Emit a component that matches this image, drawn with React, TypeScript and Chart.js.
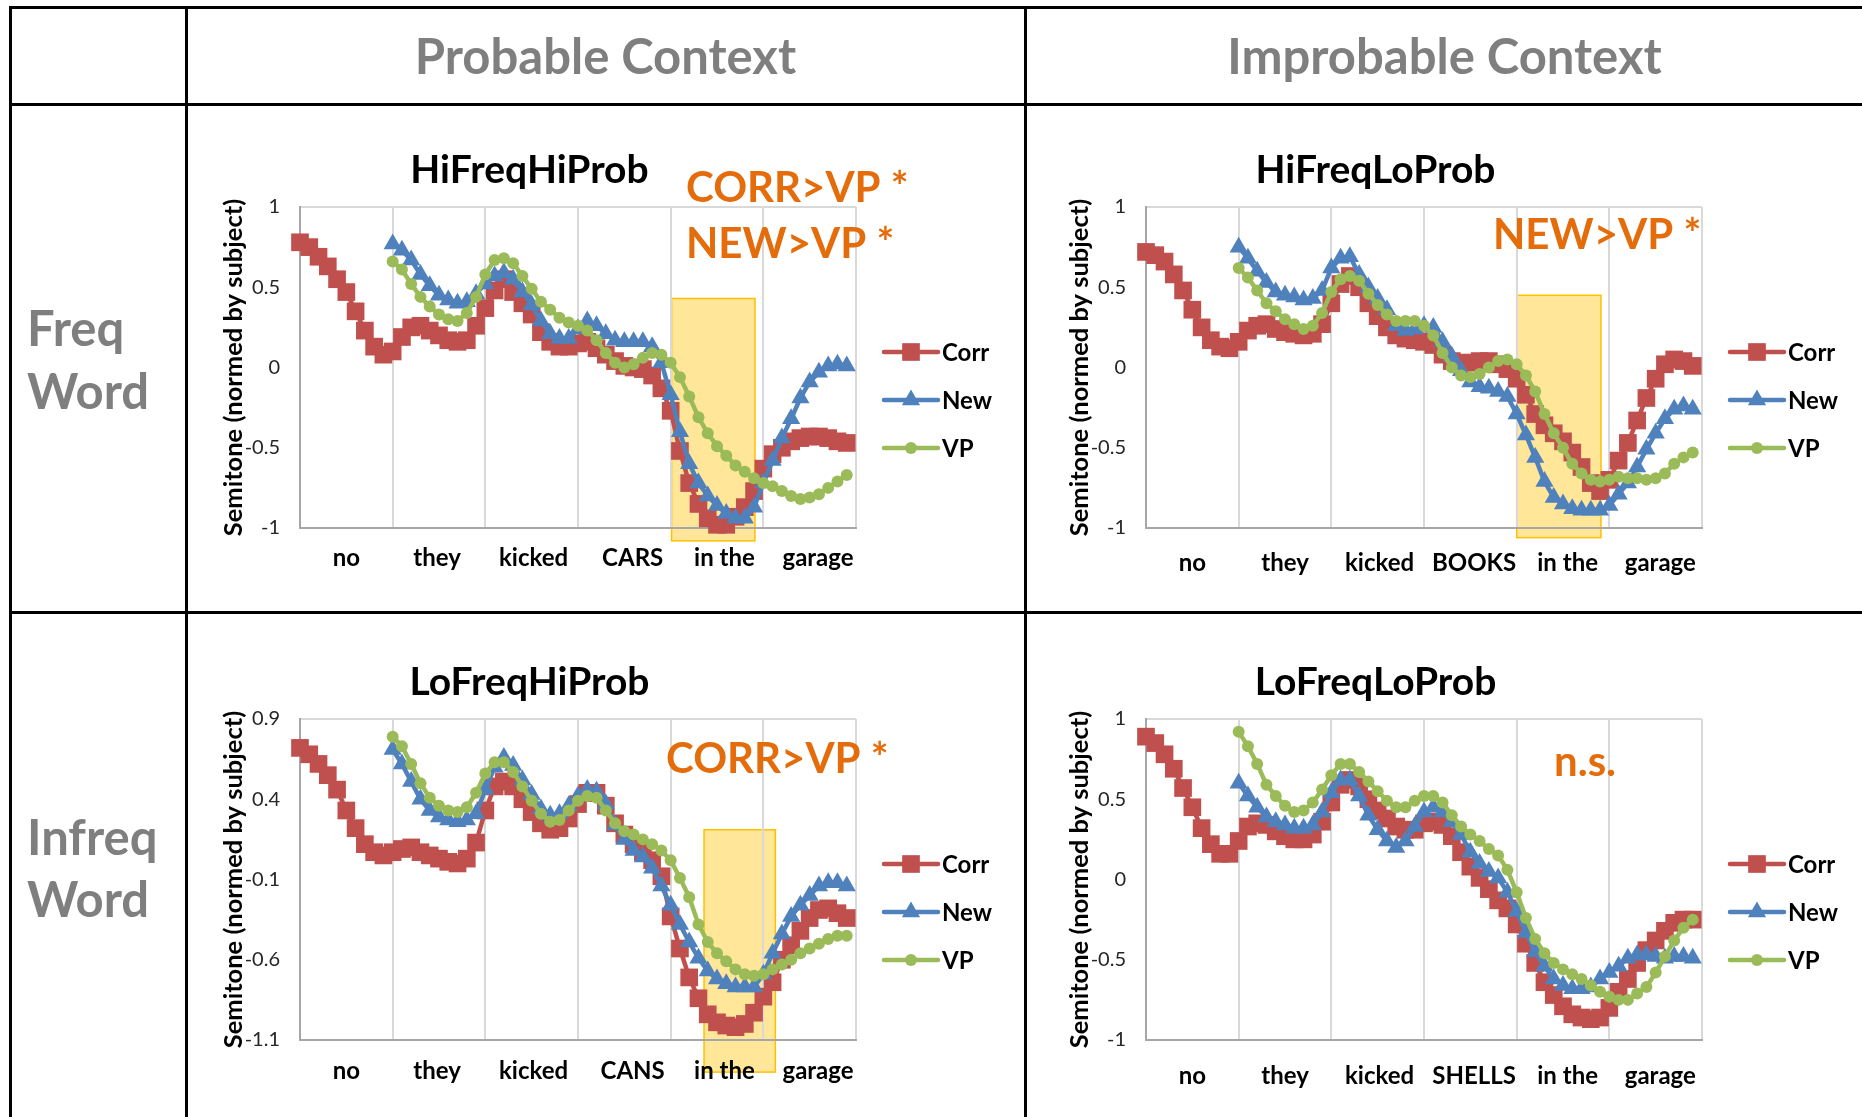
import React, { useEffect, useRef } from 'react';
import { Chart, registerables } from 'chart.js';

Chart.register(...registerables);

const FONT = 'Lato, "Open Sans", sans-serif';
Chart.defaults.font.family = FONT;

// ---------- data ----------
const seriesNames = ['Corr', 'New', 'VP'];
const seriesColors = ['#C0504D', '#4F81BD', '#9BBB59'];
const seriesStyles = ['rect', 'triangle', 'circle'];
const seriesStart = [0, 10, 10];

const xGridValues = [10, 20, 30, 40, 50, 60];
const xLabelPosLeft = [5, 14.8, 25.2, 35.9, 45.8, 55.9];
const xLabelPosRight = [5, 15, 25.2, 35.4, 45.5, 55.5];

const wordsHFHP = ['no', 'they', 'kicked', 'CARS', 'in the', 'garage'];
const wordsHFLP = ['no', 'they', 'kicked', 'BOOKS', 'in the', 'garage'];
const wordsLFHP = ['no', 'they', 'kicked', 'CANS', 'in the', 'garage'];
const wordsLFLP = ['no', 'they', 'kicked', 'SHELLS', 'in the', 'garage'];

const yTicksA = [-1, -0.5, 0, 0.5, 1];
const yTicksB = [-1.1, -0.6, -0.1, 0.4, 0.9];

const hfhpCorr = [0.78, 0.75, 0.69, 0.63, 0.55, 0.47, 0.35, 0.23, 0.13, 0.08,
  0.10, 0.19, 0.25, 0.26, 0.23, 0.20, 0.17, 0.16, 0.17, 0.26,
  0.37, 0.48, 0.55, 0.47, 0.40, 0.33, 0.22, 0.16, 0.13, 0.13,
  0.15, 0.16, 0.12, 0.08, 0.04, 0.01, 0.00, -0.01, -0.05, -0.13,
  -0.27, -0.52, -0.72, -0.85, -0.94, -0.98, -0.98, -0.93, -0.87, -0.77,
  -0.63, -0.54, -0.50, -0.46, -0.44, -0.43, -0.43, -0.44, -0.46, -0.47];
const hfhpNew = [0.77, 0.73, 0.67, 0.58, 0.51, 0.45, 0.42, 0.40, 0.41, 0.46,
  0.52, 0.57, 0.59, 0.55, 0.47, 0.39, 0.29, 0.21, 0.18, 0.18,
  0.24, 0.29, 0.26, 0.21, 0.17, 0.16, 0.16, 0.16, 0.13, 0.03,
  -0.17, -0.40, -0.60, -0.72, -0.80, -0.86, -0.91, -0.94, -0.94, -0.87,
  -0.72, -0.58, -0.44, -0.32, -0.19, -0.09, -0.03, 0.01, 0.02, 0.01];
const hfhpVP = [0.66, 0.61, 0.52, 0.44, 0.38, 0.33, 0.30, 0.29, 0.34, 0.44,
  0.58, 0.67, 0.68, 0.65, 0.57, 0.49, 0.41, 0.36, 0.31, 0.28,
  0.26, 0.23, 0.17, 0.09, 0.03, 0.00, 0.02, 0.06, 0.09, 0.08,
  0.03, -0.06, -0.18, -0.31, -0.41, -0.49, -0.55, -0.61, -0.65, -0.69,
  -0.72, -0.74, -0.77, -0.80, -0.82, -0.81, -0.79, -0.75, -0.71, -0.67];

const hflpCorr = [0.72, 0.70, 0.66, 0.58, 0.48, 0.36, 0.25, 0.17, 0.13, 0.12,
  0.16, 0.23, 0.26, 0.27, 0.24, 0.22, 0.21, 0.20, 0.21, 0.27,
  0.40, 0.52, 0.57, 0.50, 0.40, 0.32, 0.25, 0.20, 0.18, 0.17,
  0.16, 0.14, 0.08, 0.04, 0.03, 0.03, 0.04, 0.04, 0.02, -0.01,
  -0.07, -0.17, -0.29, -0.36, -0.41, -0.46, -0.53, -0.62, -0.72, -0.77,
  -0.70, -0.58, -0.47, -0.33, -0.19, -0.07, 0.02, 0.05, 0.04, 0.01];
const hflpNew = [0.75, 0.68, 0.60, 0.53, 0.47, 0.45, 0.44, 0.42, 0.43, 0.48,
  0.62, 0.68, 0.69, 0.58, 0.50, 0.43, 0.36, 0.26, 0.23, 0.24,
  0.26, 0.25, 0.16, 0.07, -0.02, -0.09, -0.12, -0.13, -0.15, -0.18,
  -0.29, -0.42, -0.56, -0.71, -0.81, -0.85, -0.88, -0.89, -0.89, -0.89,
  -0.86, -0.79, -0.72, -0.62, -0.51, -0.41, -0.32, -0.26, -0.24, -0.26];
const hflpVP = [0.62, 0.56, 0.48, 0.40, 0.35, 0.30, 0.27, 0.24, 0.26, 0.34,
  0.47, 0.55, 0.57, 0.54, 0.46, 0.39, 0.33, 0.29, 0.29, 0.29,
  0.26, 0.20, 0.09, 0.00, -0.05, -0.06, -0.04, 0.00, 0.04, 0.05,
  0.02, -0.05, -0.15, -0.29, -0.41, -0.50, -0.60, -0.66, -0.70, -0.71,
  -0.70, -0.68, -0.69, -0.69, -0.70, -0.69, -0.66, -0.60, -0.56, -0.53];

const lfhpCorr = [0.72, 0.68, 0.62, 0.55, 0.46, 0.33, 0.22, 0.12, 0.07, 0.05,
  0.07, 0.09, 0.10, 0.07, 0.05, 0.03, 0.01, 0.00, 0.03, 0.13,
  0.33, 0.48, 0.51, 0.48, 0.40, 0.32, 0.25, 0.21, 0.22, 0.28,
  0.37, 0.44, 0.44, 0.36, 0.25, 0.18, 0.12, 0.07, 0.02, -0.08,
  -0.33, -0.53, -0.71, -0.84, -0.94, -0.99, -1.01, -1.02, -1.00, -0.93,
  -0.83, -0.74, -0.60, -0.51, -0.42, -0.34, -0.29, -0.28, -0.31, -0.34];
const lfhpNew = [0.71, 0.62, 0.51, 0.40, 0.33, 0.29, 0.27, 0.26, 0.27, 0.31,
  0.46, 0.60, 0.66, 0.61, 0.52, 0.43, 0.34, 0.30, 0.31, 0.36,
  0.42, 0.46, 0.45, 0.37, 0.24, 0.15, 0.08, 0.04, -0.03, -0.14,
  -0.26, -0.38, -0.49, -0.59, -0.67, -0.72, -0.75, -0.77, -0.77, -0.77,
  -0.69, -0.56, -0.44, -0.33, -0.26, -0.20, -0.14, -0.12, -0.12, -0.14];
const lfhpVP = [0.79, 0.73, 0.62, 0.50, 0.41, 0.36, 0.33, 0.32, 0.35, 0.44,
  0.56, 0.63, 0.63, 0.57, 0.48, 0.39, 0.31, 0.26, 0.27, 0.33,
  0.39, 0.42, 0.41, 0.33, 0.25, 0.20, 0.18, 0.15, 0.12, 0.08,
  0.02, -0.09, -0.21, -0.38, -0.49, -0.56, -0.61, -0.66, -0.69, -0.70,
  -0.69, -0.66, -0.63, -0.60, -0.56, -0.53, -0.50, -0.47, -0.45, -0.45];

const lflpCorr = [0.89, 0.85, 0.78, 0.69, 0.57, 0.45, 0.32, 0.22, 0.16, 0.16,
  0.24, 0.33, 0.35, 0.34, 0.30, 0.27, 0.25, 0.25, 0.28, 0.36,
  0.48, 0.59, 0.62, 0.58, 0.50, 0.43, 0.38, 0.33, 0.31, 0.31,
  0.35, 0.36, 0.34, 0.27, 0.17, 0.08, 0.01, -0.06, -0.13, -0.18,
  -0.28, -0.40, -0.52, -0.64, -0.72, -0.79, -0.84, -0.86, -0.87, -0.86,
  -0.80, -0.70, -0.62, -0.52, -0.44, -0.38, -0.32, -0.27, -0.25, -0.25];
const lflpNew = [0.60, 0.52, 0.45, 0.39, 0.36, 0.34, 0.32, 0.32, 0.34, 0.42,
  0.54, 0.62, 0.62, 0.52, 0.40, 0.31, 0.24, 0.20, 0.24, 0.33,
  0.42, 0.45, 0.42, 0.36, 0.28, 0.17, 0.10, 0.05, 0.01, -0.08,
  -0.20, -0.33, -0.45, -0.54, -0.62, -0.66, -0.68, -0.68, -0.67, -0.62,
  -0.58, -0.54, -0.49, -0.47, -0.47, -0.48, -0.49, -0.48, -0.48, -0.49];
const lflpVP = [0.92, 0.83, 0.72, 0.59, 0.52, 0.46, 0.42, 0.43, 0.48, 0.56,
  0.65, 0.72, 0.72, 0.67, 0.61, 0.55, 0.49, 0.45, 0.45, 0.49,
  0.52, 0.52, 0.48, 0.40, 0.33, 0.28, 0.24, 0.19, 0.15, 0.06,
  -0.08, -0.24, -0.37, -0.46, -0.52, -0.56, -0.59, -0.62, -0.66, -0.70,
  -0.73, -0.75, -0.75, -0.71, -0.67, -0.58, -0.48, -0.38, -0.30, -0.25];

// highlight boxes: [xFrom, xTo], [yTop, yBottom] in data units
const hlHFHPx = [40.1, 49.1];
const hlHFHPy = [0.43, -1.08];
const hlHFLPx = [40.0, 49.1];
const hlHFLPy = [0.45, -1.06];
const hlLFHPx = [43.6, 51.3];
const hlLFHPy = [0.21, -1.30];

// ---------- drawing helpers ----------
function drawMarker(ctx: CanvasRenderingContext2D, style: string, x: number, y: number, r: number, color: string) {
  ctx.save();
  ctx.fillStyle = color;
  ctx.beginPath();
  if (style === 'rect') {
    const s = Math.SQRT1_2 * r;
    ctx.rect(x - s, y - s, 2 * s, 2 * s);
  } else if (style === 'triangle') {
    let a = 0;
    ctx.moveTo(x + Math.sin(a) * r, y - Math.cos(a) * r);
    a += (2 * Math.PI) / 3;
    ctx.lineTo(x + Math.sin(a) * r, y - Math.cos(a) * r);
    a += (2 * Math.PI) / 3;
    ctx.lineTo(x + Math.sin(a) * r, y - Math.cos(a) * r);
    ctx.closePath();
  } else {
    ctx.arc(x, y, r, 0, Math.PI * 2);
  }
  ctx.fill();
  ctx.restore();
}

const markerRadius: Record<string, number> = { rect: 12.5, triangle: 10.5, circle: 6 };

type Note = { text: string; dx: number; dy: number };
type PanelProps = {
  left: number; top: number; width: number; height: number;
  xAxisH: number; labelPad: number;
  title: string; words: string[]; labelPos: number[];
  corr: number[]; newS: number[]; vp: number[];
  yTicks: number[];
  hlx?: number[]; hly?: number[];
  notes: Note[];
};

function Panel(p: PanelProps) {
  const ref = useRef<HTMLCanvasElement | null>(null);
  useEffect(() => {
    const canvas = ref.current;
    if (!canvas) return;
    const yMin = p.yTicks[0];
    const yMax = p.yTicks[p.yTicks.length - 1];
    const all = [p.corr, p.newS, p.vp];
    const xTickVals = [...xGridValues, ...p.labelPos].sort((a, b) => a - b);

    const decor = {
      id: 'decor',
      beforeDraw(chart: any) {
        if (!p.hlx || !p.hly) return;
        const ctx = chart.ctx;
        const xs = chart.scales.x, ys = chart.scales.y;
        const x0 = xs.getPixelForValue(p.hlx[0]);
        const x1 = xs.getPixelForValue(p.hlx[1]);
        const y0 = ys.getPixelForValue(p.hly[0]);
        const y1 = ys.getPixelForValue(p.hly[1]);
        ctx.save();
        ctx.fillStyle = '#FFE699';
        ctx.fillRect(x0, y0, x1 - x0, y1 - y0);
        ctx.strokeStyle = '#FFC000';
        ctx.lineWidth = 1.5;
        ctx.strokeRect(x0, y0, x1 - x0, y1 - y0);
        ctx.restore();
      },
      afterDraw(chart: any) {
        const ctx = chart.ctx as CanvasRenderingContext2D;
        const ca = chart.chartArea;
        ctx.save();
        // title
        ctx.fillStyle = '#000';
        ctx.font = `bold 39px ${FONT}`;
        ctx.textAlign = 'center';
        ctx.textBaseline = 'alphabetic';
        ctx.fillText(p.title, ca.left + 229.5, ca.top - 24);
        // significance notes
        ctx.fillStyle = '#E46C0A';
        ctx.font = `bold 42px ${FONT}`;
        ctx.textAlign = 'left';
        p.notes.forEach((n) => ctx.fillText(n.text, ca.left + n.dx, ca.top + n.dy));
        // legend
        const rows = [145, 193, 241];
        seriesNames.forEach((name, k) => {
          const y = ca.top + rows[k];
          ctx.strokeStyle = seriesColors[k];
          ctx.lineWidth = 4.5;
          ctx.lineCap = 'round';
          ctx.beginPath();
          ctx.moveTo(ca.right + 28, y);
          ctx.lineTo(ca.right + 82, y);
          ctx.stroke();
          drawMarker(ctx, seriesStyles[k], ca.right + 55, y, markerRadius[seriesStyles[k]], seriesColors[k]);
          ctx.fillStyle = '#000';
          ctx.font = `bold 24px ${FONT}`;
          ctx.fillText(name, ca.right + 86, y + 8.7);
        });
        ctx.restore();
      },
    };

    const datasets = all.map((vals, k) => ({
      label: seriesNames[k],
      data: vals.map((v, i) => ({ x: i + seriesStart[k], y: v })),
      borderColor: seriesColors[k],
      backgroundColor: seriesColors[k],
      borderWidth: 4.5,
      pointStyle: seriesStyles[k],
      pointRadius: markerRadius[seriesStyles[k]],
      pointBackgroundColor: seriesColors[k],
      pointBorderColor: seriesColors[k],
      pointBorderWidth: 0,
      tension: 0,
      clip: false,
      order: 3 - k,
    }));

    const chart = new Chart(canvas, {
      type: 'line',
      data: { datasets } as any,
      plugins: [decor],
      options: {
        responsive: false,
        animation: false,
        events: [],
        layout: { padding: { left: 0, top: 101, right: 152, bottom: 0 } },
        plugins: {
          legend: { display: false },
          title: { display: false },
          tooltip: { enabled: false },
        },
        scales: {
          x: {
            type: 'linear',
            min: 0,
            max: 60,
            afterBuildTicks: (s: any) => { s.ticks = xTickVals.map((v) => ({ value: v })); },
            afterFit: (s: any) => { s.height = p.xAxisH; },
            ticks: {
              autoSkip: false,
              maxRotation: 0,
              minRotation: 0,
              padding: p.labelPad,
              color: '#000',
              font: { size: 24, weight: 'bold', family: FONT },
              callback: (v: any) => {
                const k = p.labelPos.indexOf(Number(v));
                return k >= 0 ? p.words[k] : '';
              },
            },
            grid: {
              drawTicks: false,
              lineWidth: 2,
              color: (c: any) => {
                const v = c.tick ? c.tick.value : -1;
                return xGridValues.indexOf(v) >= 0 ? '#D9D9D9' : 'rgba(0,0,0,0)';
              },
            },
            border: { display: true, color: '#A6A6A6', width: 2 },
          },
          y: {
            type: 'linear',
            min: yMin,
            max: yMax,
            afterBuildTicks: (s: any) => { s.ticks = p.yTicks.map((v) => ({ value: v })); },
            afterFit: (s: any) => { s.width = 112; },
            ticks: {
              padding: 20,
              color: '#262626',
              font: { size: 20, family: FONT },
              callback: (v: any) => String(Math.round(Number(v) * 10) / 10),
            },
            grid: {
              drawTicks: false,
              lineWidth: 2,
              color: (c: any) => (c.tick && Math.abs(c.tick.value - yMax) < 1e-9 ? '#D9D9D9' : 'rgba(0,0,0,0)'),
            },
            border: { display: true, color: '#A6A6A6', width: 2 },
            title: {
              display: true,
              text: 'Semitone (normed by subject)',
              color: '#000',
              font: { size: 25.5, weight: 'bold', family: FONT },
              padding: { top: 30, bottom: 0 },
            },
          },
        },
      } as any,
    });
    return () => chart.destroy();
  }, []);
  return (
    <canvas
      ref={ref}
      width={p.width}
      height={p.height}
      style={{ position: 'absolute', left: p.left, top: p.top, width: p.width, height: p.height }}
    />
  );
}

const lineStyle = (l: number, t: number, w: number, h: number): React.CSSProperties => ({
  position: 'absolute', left: l, top: t, width: w, height: h, background: '#000',
});

const headText: React.CSSProperties = {
  position: 'absolute', fontFamily: FONT, fontWeight: 700, fontSize: 49, lineHeight: '49px',
  color: '#7F7F7F', whiteSpace: 'nowrap',
};

export default function App() {
  return (
    <div style={{ position: 'absolute', left: 0, top: 0, width: 1862, height: 1117, overflow: 'hidden', background: '#fff', fontFamily: FONT }}>
      {/* headers */}
      <div style={{ ...headText, left: 187, width: 837, top: 31, textAlign: 'center' }}>Probable Context</div>
      <div style={{ ...headText, left: 1027, width: 835, top: 31, textAlign: 'center' }}>Improbable Context</div>
      <div style={{ ...headText, left: 27, top: 303 }}>Freq</div>
      <div style={{ ...headText, left: 27, top: 366 }}>Word</div>
      <div style={{ ...headText, left: 27, top: 812 }}>Infreq</div>
      <div style={{ ...headText, left: 27, top: 874 }}>Word</div>

      <Panel left={188} top={106} width={820} height={504} xAxisH={82} labelPad={16}
        title="HiFreqHiProb" words={wordsHFHP} labelPos={xLabelPosLeft} corr={hfhpCorr} newS={hfhpNew} vp={hfhpVP}
        yTicks={yTicksA} hlx={hlHFHPx} hly={hlHFHPy}
        notes={[{ text: 'CORR>VP *', dx: 386, dy: -5 }, { text: 'NEW>VP *', dx: 386, dy: 51 }]} />
      <Panel left={1034} top={106} width={820} height={504} xAxisH={82} labelPad={21}
        title="HiFreqLoProb" words={wordsHFLP} labelPos={xLabelPosRight} corr={hflpCorr} newS={hflpNew} vp={hflpVP}
        yTicks={yTicksA} hlx={hlHFLPx} hly={hlHFLPy}
        notes={[{ text: 'NEW>VP *', dx: 347, dy: 42 }]} />
      <Panel left={188} top={618} width={820} height={496} xAxisH={74} labelPad={17}
        title="LoFreqHiProb" words={wordsLFHP} labelPos={xLabelPosLeft} corr={lfhpCorr} newS={lfhpNew} vp={lfhpVP}
        yTicks={yTicksB} hlx={hlLFHPx} hly={hlLFHPy}
        notes={[{ text: 'CORR>VP *', dx: 366, dy: 54 }]} />
      <Panel left={1034} top={618} width={820} height={496} xAxisH={74} labelPad={22}
        title="LoFreqLoProb" words={wordsLFLP} labelPos={xLabelPosRight} corr={lflpCorr} newS={lflpNew} vp={lflpVP}
        yTicks={yTicksA}
        notes={[{ text: 'n.s.', dx: 408, dy: 57 }]} />

      {/* table rules */}
      <div style={lineStyle(9, 6, 1853, 3)} />
      <div style={lineStyle(9, 6, 3, 1111)} />
      <div style={lineStyle(185, 6, 3, 1111)} />
      <div style={lineStyle(1024, 6, 3, 1111)} />
      <div style={lineStyle(9, 103, 1853, 3)} />
      <div style={lineStyle(9, 611, 1853, 3)} />
    </div>
  );
}
